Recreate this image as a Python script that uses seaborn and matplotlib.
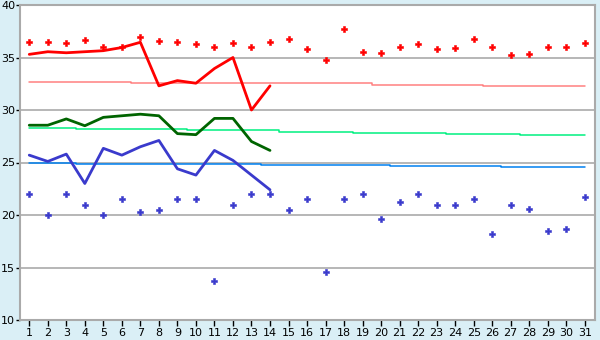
import matplotlib
matplotlib.use("Agg")
import matplotlib.pyplot as plt
import seaborn as sns
import pandas as pd

days = list(range(1, 32))
max_temp = [36.5, 36.5, 36.4, 36.7, 36.0, 36.0, 37.0, 36.6, 36.5, 36.3, 36.0,
            36.4, 36.0, 36.5, 36.8, 35.8, 34.8, 37.7, 35.5, 35.4, 36.0, 36.3,
            35.8, 35.9, 36.8, 36.0, 35.2, 35.3, 36.0, 36.0, 36.4]
min_temp = [22.0, 20.0, 22.0, 21.0, 20.0, 21.5, 20.3, 20.5, 21.5, 21.5, 13.7,
            21.0, 22.0, 22.0, 20.5, 21.5, 14.6, 21.5, 22.0, 19.6, 21.2, 22.0,
            21.0, 21.0, 21.5, 18.2, 21.0, 20.6, 18.5, 18.7, 21.7]
line_days = list(range(1, 15))
max_line = [35.3, 35.55, 35.45, 35.55, 35.65, 35.95, 36.45, 32.3, 32.8, 32.55,
            33.95, 35.0, 30.0, 32.3]
mean_line = [28.55, 28.55, 29.15, 28.5, 29.3, 29.45, 29.6, 29.45, 27.75, 27.65,
             29.2, 29.2, 27.0, 26.15]
min_line = [25.7, 25.1, 25.8, 23.0, 26.35, 25.7, 26.5, 27.1, 24.4, 23.8,
            26.15, 25.2, 23.8, 22.4]
normal_max = [32.65] * 6 + [32.55] * 13 + [32.35] * 6 + [32.25] * 6
normal_mean = [28.3] * 3 + [28.2] * 6 + [28.05] * 5 + [27.9] * 4 + [27.8] * 5 + [27.7] * 4 + [27.6] * 4
normal_min = [25.0] * 3 + [24.9] * 10 + [24.8] * 7 + [24.7] * 6 + [24.6] * 5
y_ticks = [10, 15, 20, 25, 30, 35, 40]

sns.set_theme(style="white")
plt.rcParams["font.family"] = ["DejaVu Sans"]

bg = "#DAEFF6"
grid_c = "#AAAAAA"

fig = plt.figure(figsize=(6, 3.4), dpi=100, facecolor=bg)
ax = fig.add_axes([20 / 600, 1 - 320 / 340, 575 / 600, 315 / 340])
ax.set_facecolor("white")

for yv in y_ticks[1:-1]:
    ax.axhline(yv, color=grid_c, lw=1.2, zorder=0)

norm_df = pd.DataFrame({"day": days, "nmax": normal_max, "nmean": normal_mean, "nmin": normal_min})
sns.lineplot(data=norm_df, x="day", y="nmax", ax=ax, color="#FF8080", lw=1.1, drawstyle="steps-mid")
sns.lineplot(data=norm_df, x="day", y="nmean", ax=ax, color="#00F080", lw=1.1, drawstyle="steps-mid")
sns.lineplot(data=norm_df, x="day", y="nmin", ax=ax, color="#0080F0", lw=1.1, drawstyle="steps-mid")

line_df = pd.DataFrame({"day": line_days, "max": max_line, "mean": mean_line, "min": min_line})
sns.lineplot(data=line_df, x="day", y="max", ax=ax, color="#FF0000", lw=2)
sns.lineplot(data=line_df, x="day", y="mean", ax=ax, color="#006400", lw=2)
sns.lineplot(data=line_df, x="day", y="min", ax=ax, color="#3A3ACC", lw=2)

pts = pd.DataFrame({"day": days, "max": max_temp, "min": min_temp})
sns.scatterplot(data=pts, x="day", y="max", ax=ax, color="#FF0000", marker="P",
                s=20, linewidth=0.4, edgecolor="#FF0000", zorder=5)
sns.scatterplot(data=pts, x="day", y="min", ax=ax, color="#3A3ACC", marker="P",
                s=20, linewidth=0.4, edgecolor="#3A3ACC", zorder=5)

ax.set_xlim(0.5, 31.55)
ax.set_ylim(10, 40)
ax.set_xticks(days)
ax.set_xticklabels([str(d) for d in days])
ax.set_yticks(y_ticks)
ax.set_yticklabels([str(v) for v in y_ticks])
ax.set_xlabel("")
ax.set_ylabel("")
for s in ax.spines.values():
    s.set_color(grid_c)
    s.set_linewidth(1.5)
ax.tick_params(axis="both", which="both", direction="out", length=4, width=1,
               color="#000000", labelsize=8, labelcolor="#000000", pad=2,
               bottom=True, left=True)
ax.tick_params(axis="y", pad=0.5, length=3)
ax.grid(False)

fig.savefig("out.png", dpi=100, facecolor=bg)
